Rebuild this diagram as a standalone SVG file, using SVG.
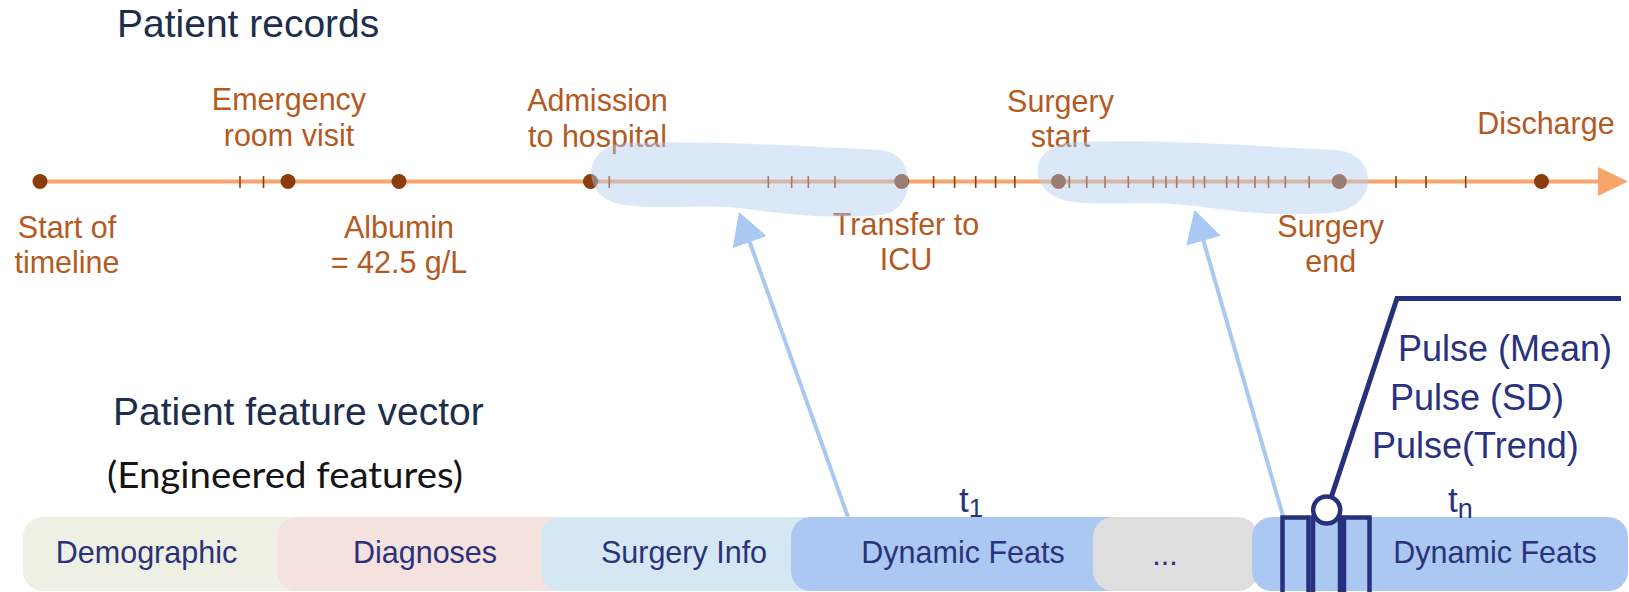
<svg xmlns="http://www.w3.org/2000/svg" width="1629" height="592" viewBox="0 0 1629 592">
  <style>
    text { font-family: "Liberation Sans", Arial, Helvetica, sans-serif; }
    .heading { font-size: 39px; fill: #1d2e4c; }
    .sub { font-family: Lato, "Open Sans", sans-serif; font-size: 36px; fill: #141414; }
    .evt { font-size: 30.5px; fill: #b45a1f; text-anchor: middle; }
    .dot { fill: #8a3c0c; }
    .seg-label { font-size: 30.5px; fill: #2a327a; text-anchor: middle; }
    .pulse { font-size: 36px; fill: #2a3280; }
    .tlabel { font-size: 35px; fill: #2a327a; }
    .blob { fill: rgb(175,205,240); fill-opacity: 0.45; }
    .link { stroke: #a9c8f3; stroke-width: 4; fill: none; }
    .navy { stroke: #27307c; fill: none; }
  </style>
  <defs>
    <marker id="lightHead" markerUnits="userSpaceOnUse" viewBox="0 0 32 36" refX="12" refY="18" markerWidth="32" markerHeight="36" orient="auto">
      <path d="M0,0 L32,18 L0,36 Z" fill="#a9c8f3"/>
    </marker>
  </defs>

  <rect width="1629" height="592" fill="#ffffff"/>

  <!-- headings -->
  <text id="title-records" class="heading" x="117" y="37">Patient records</text>
  <text id="title-vector" class="heading" x="113" y="425">Patient feature vector</text>
  <text id="title-engineered" class="sub" x="107" y="488" textLength="356" lengthAdjust="spacingAndGlyphs">(Engineered features)</text>

  <!-- timeline axis with minor ticks -->
  <g id="timeline">
    <line x1="40" y1="181.5" x2="1602" y2="181.5" stroke="#f8a56b" stroke-width="4"/>
    <path d="M1598,167 L1628,181.5 L1598,196 Z" fill="#f8a56b"/>
    <path stroke="#8a3c0c" stroke-width="1.6" fill="none"
      d="M240,176V188 M263.5,176V188 M609.3,176V188 M768.3,176V188 M791.7,176V188 M808.3,176V188 M835,176V188
         M933.6,176V188 M954.6,176V188 M975.7,176V188 M995.6,176V188 M1014.8,176V188
         M1069.3,176V188 M1086.7,176V188 M1105,176V188 M1128.3,176V188 M1153.3,176V188 M1166,176V188 M1176.7,176V188
         M1193.5,176V188 M1204.5,176V188 M1226.7,176V188 M1238.3,176V188 M1255,176V188 M1268.5,176V188 M1285.3,176V188 M1309.2,176V188
         M1396,176V188 M1426,176V188 M1465.7,176V188"/>
  </g>

  <!-- timeline events -->
  <g id="evt-start">
    <circle class="dot" cx="40" cy="181.5" r="7.5"/>
    <text class="evt" x="67" y="238">Start of</text>
    <text class="evt" x="67" y="273">timeline</text>
  </g>
  <g id="evt-emergency">
    <circle class="dot" cx="288" cy="181.5" r="7.5"/>
    <text class="evt" x="289" y="110">Emergency</text>
    <text class="evt" x="289" y="146">room visit</text>
  </g>
  <g id="evt-albumin">
    <circle class="dot" cx="399" cy="181.5" r="7.5"/>
    <text class="evt" x="399" y="238">Albumin</text>
    <text class="evt" x="399" y="273">= 42.5 g/L</text>
  </g>
  <g id="evt-admission">
    <circle class="dot" cx="590.5" cy="181.5" r="7.5"/>
    <text class="evt" x="597.5" y="111">Admission</text>
    <text class="evt" x="597.5" y="146.5">to hospital</text>
  </g>
  <g id="evt-transfer">
    <circle class="dot" cx="901.7" cy="181.5" r="7.5"/>
    <text class="evt" x="906" y="235">Transfer to</text>
    <text class="evt" x="906" y="270">ICU</text>
  </g>
  <g id="evt-surgery-start">
    <circle class="dot" cx="1058.5" cy="181.5" r="7.5"/>
    <text class="evt" x="1060.5" y="111.5">Surgery</text>
    <text class="evt" x="1060.5" y="146.5">start</text>
  </g>
  <g id="evt-surgery-end">
    <circle class="dot" cx="1339.3" cy="181.5" r="7.5"/>
    <text class="evt" x="1330.7" y="236.5">Surgery</text>
    <text class="evt" x="1330.7" y="272">end</text>
  </g>
  <g id="evt-discharge">
    <circle class="dot" cx="1541.5" cy="181.5" r="7.5"/>
    <text class="evt" x="1546" y="134">Discharge</text>
  </g>

  <!-- highlighted time windows -->
  <g id="window-1">
    <path class="blob" d="M625,143 C700,140 800,146 880,150 C918,152 918,211 880,215 C820,220 770,212 740,208 C700,204 660,210 625,205 C580,200 580,146 625,143 Z"/>
  </g>
  <g id="window-n">
    <path class="blob" d="M1075,142 C1160,139 1260,146 1335,150 C1380,152 1380,210 1330,213 C1270,217 1225,210 1195,206 C1150,200 1110,206 1075,202 C1025,197 1025,144 1075,142 Z"/>
  </g>

  <!-- feature vector segments -->
  <g id="seg-demographic">
    <rect x="23" y="517" width="300" height="74" rx="20" fill="#eef0e4"/>
    <text class="seg-label" x="146.5" y="563">Demographic</text>
  </g>
  <g id="seg-diagnoses">
    <rect x="277" y="517" width="300" height="74" rx="20" fill="#f5e1de"/>
    <text class="seg-label" x="425" y="563">Diagnoses</text>
  </g>
  <g id="seg-surgery">
    <rect x="541" y="517" width="300" height="74" rx="20" fill="#d6e7f4"/>
    <text class="seg-label" x="684" y="563">Surgery Info</text>
  </g>
  <g id="seg-dynamic-1">
    <rect x="791" y="517" width="340" height="74" rx="20" fill="#abc8f2"/>
    <text class="seg-label" x="963" y="563">Dynamic Feats</text>
    <text class="tlabel" x="959" y="511.7">t<tspan font-size="26" dy="5">1</tspan></text>
  </g>
  <g id="seg-ellipsis">
    <rect x="1093" y="517" width="165" height="74" rx="20" fill="#dedede"/>
    <text class="seg-label" x="1165" y="565">...</text>
  </g>
  <g id="seg-dynamic-n">
    <rect x="1252" y="517" width="376" height="74" rx="20" fill="#abc8f2"/>
    <text class="seg-label" x="1495" y="563">Dynamic Feats</text>
    <text class="tlabel" x="1448" y="511.7">t<tspan font-size="27" dy="6">n</tspan></text>
  </g>

  <!-- connectors -->
  <g id="connectors">
    <line class="link" x1="848" y1="517" x2="745.7" y2="230.8" marker-end="url(#lightHead)"/>
    <line class="link" x1="1283" y1="516" x2="1200.1" y2="229.2" marker-end="url(#lightHead)"/>
    <polyline class="navy" stroke-width="5" points="1327,510 1397,298.5 1621,298.5"/>
  </g>

  <!-- pulse feature breakdown -->
  <g id="pulse-detail">
    <rect class="navy" stroke-width="4.5" x="1282.5" y="517.5" width="26" height="80"/>
    <rect class="navy" stroke-width="4.5" x="1313" y="517.5" width="27" height="80"/>
    <rect class="navy" stroke-width="4.5" x="1344" y="517.5" width="25.5" height="80"/>
    <circle cx="1326.7" cy="510" r="13.5" fill="#ffffff" stroke="#27307c" stroke-width="4.5"/>
    <text class="pulse" x="1398" y="360.5">Pulse (Mean)</text>
    <text class="pulse" x="1390" y="410">Pulse (SD)</text>
    <text class="pulse" x="1372" y="458">Pulse(Trend)</text>
  </g>
</svg>
